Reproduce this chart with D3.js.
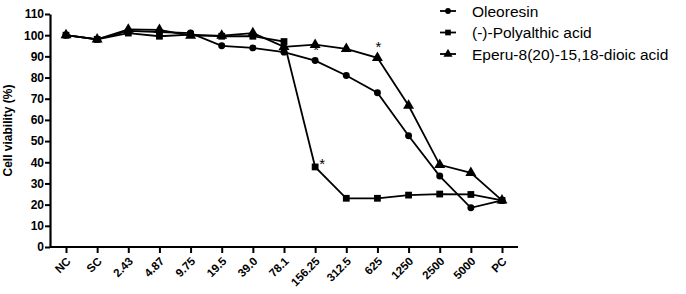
<!DOCTYPE html>
<html>
<head>
<meta charset="utf-8">
<script src="https://cdn.jsdelivr.net/npm/d3@7"></script>
<style>
  body { margin: 0; background: #fff; }
  text { font-family: Arial, "Liberation Sans", sans-serif; fill: #000; }
</style>
</head>
<body>
<div id="chart-area"></div>
<script>
// categories (concentrations)
var categories = ["NC", "SC", "2.43", "4.87", "9.75", "19.5", "39.0", "78.1",
    "156.25", "312.5", "625", "1250", "2500", "5000", "PC"];

var oleoresin = [100, 98, 102, 101.5, 101, 95, 94, 92, 88, 81, 72.8, 52.5, 33.5, 18.5, 22];
var polyalthic = [100, 98, 101, 99.5, 100.3, 99.5, 99.5, 97, 37.8, 23, 23, 24.5, 25, 24.8, 22];
var eperu = [100, 98, 102.7, 102.5, 99.8, 99.8, 101, 94.5, 95.5, 93.5, 89.3, 66.8, 38.8, 35, 22];

var yTicks = [0, 10, 20, 30, 40, 50, 60, 70, 80, 90, 100, 110];

// significance marks: [series, category]
var stars = [["oleoresin", "156.25"], ["polyalthic", "156.25"], ["eperu", "625"]];

var series = [
    { key: "oleoresin", name: "Oleoresin", values: oleoresin, symbol: d3.symbolCircle, size: 38 },
    { key: "polyalthic", name: "(-)-Polyalthic acid", values: polyalthic, symbol: d3.symbolSquare, size: 46 },
    { key: "eperu", name: "Eperu-8(20)-15,18-dioic acid", values: eperu, symbol: d3.symbolTriangle, size: 52 }
];

var margin = { left: 50, right: 168, top: 14, bottom: 47 };
var width = 686 - margin.left - margin.right,
    height = 294 - margin.top - margin.bottom;

var svg = d3.select("#chart-area")
    .append("svg")
        .attr("width", 686)
        .attr("height", 294);

var g = svg.append("g")
    .attr("transform", "translate(" + margin.left + "," + margin.top + ")");

// X Scale
var x = d3.scalePoint()
    .domain(categories)
    .range([16, 452]);

// Y Scale
var y = d3.scaleLinear()
    .domain([0, 110])
    .range([height, 0]);

// Y Axis
var yAxis = g.append("g")
    .call(d3.axisLeft(y).tickValues(yTicks).tickSize(5).tickSizeOuter(0));
yAxis.select(".domain").attr("stroke-width", 2.2);
yAxis.selectAll(".tick line").attr("stroke-width", 2);
yAxis.selectAll("text")
    .attr("font-size", "12px")
    .attr("font-weight", "bold")
    .attr("x", -6);

// X Axis
var xAxis = g.append("g")
    .attr("transform", "translate(0," + height + ")")
    .call(d3.axisBottom(x).tickSize(6).tickSizeOuter(0));
xAxis.select(".domain").attr("d", "M0,0H468").attr("stroke-width", 2.2);
xAxis.selectAll(".tick line").attr("stroke-width", 2);
xAxis.selectAll("text")
    .attr("font-size", "11.5px")
    .attr("font-weight", "bold")
    .attr("text-anchor", "end")
    .attr("dy", 0)
    .attr("transform", "translate(5,15) rotate(-45)")
    .attr("x", 0)
    .attr("y", 0);

// Y Label
g.append("text")
    .attr("transform", "rotate(-90)")
    .attr("x", -(height / 2))
    .attr("y", -38)
    .attr("text-anchor", "middle")
    .attr("font-size", "12px")
    .attr("font-weight", "bold")
    .text("Cell viability (%)");

var line = d3.line()
    .x(function(d, i) { return x(categories[i]); })
    .y(function(d) { return y(d); });

series.forEach(function(s) {
    g.append("path")
        .datum(s.values)
        .attr("fill", "none")
        .attr("stroke", "#000")
        .attr("stroke-width", 1.8)
        .attr("d", line);

    g.selectAll(".pt-" + s.key)
        .data(s.values)
        .enter()
        .append("path")
            .attr("class", "pt-" + s.key)
            .attr("d", d3.symbol().type(s.symbol).size(s.size))
            .attr("transform", function(d, i) {
                return "translate(" + x(categories[i]) + "," + y(d) + ")";
            });
});

// asterisks
stars.forEach(function(st) {
    var s = series.find(function(d) { return d.key === st[0]; });
    var v = s.values[categories.indexOf(st[1])];
    g.append("text")
        .attr("x", x(st[1]) + (st[0] === "polyalthic" ? 4 : 1))
        .attr("y", y(v) - (st[0] === "polyalthic" ? -2 : 6))
        .attr("text-anchor", st[0] === "polyalthic" ? "start" : "middle")
        .attr("font-size", "15px")
        .attr("fill", "#000")
        .text("*");
});

// Legend
var legend = svg.append("g")
    .attr("transform", "translate(440, 11)");

series.forEach(function(s, i) {
    var row = legend.append("g")
        .attr("transform", "translate(0," + (i * 21.5) + ")");
    row.append("line")
        .attr("x1", 0).attr("x2", 16)
        .attr("stroke", "#000")
        .attr("stroke-width", 1.8);
    row.append("path")
        .attr("d", d3.symbol().type(s.symbol).size(s.size * 0.7))
        .attr("transform", "translate(8,0)");
    row.append("text")
        .attr("x", 32)
        .attr("y", 5.5)
        .attr("font-size", "15.5px")
        .text(s.name);
});
</script>
</body>
</html>
